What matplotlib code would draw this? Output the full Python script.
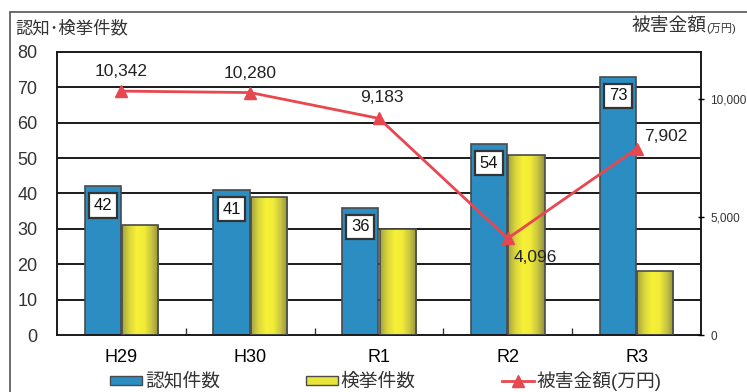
import matplotlib
matplotlib.use("Agg")
import matplotlib.pyplot as plt
import numpy as np
from matplotlib.colors import LinearSegmentedColormap
from matplotlib.lines import Line2D
from matplotlib.patches import Patch, Rectangle

plt.rcParams["font.family"] = ["Liberation Sans", "Noto Sans CJK JP", "DejaVu Sans"]

# data
years = ["H29", "H30", "R1", "R2", "R3"]
ninchi = [42, 41, 36, 54, 73]          # 認知件数
kenkyo = [31, 39, 30, 51, 18]          # 検挙件数
higai = [10342, 10280, 9183, 4096, 7902]  # 被害金額 (万円)
higai_offsets = [(0, 14), (0, 14), (2, 15), (20, -14), (21, 9)]  # label offsets, pt

BLUE = "#2c8dc2"
RED = "#e8474f"
EDGE = "#4a4a4a"
yellow_cmap = LinearSegmentedColormap.from_list(
    "yel", ["#a3a240", "#d9d63c", "#f6f036", "#f2ec38", "#c9c640", "#8e8f42"])

fig = plt.figure(figsize=(7.47, 3.92), dpi=100)
ax = fig.add_axes([57 / 747, 1 - 335 / 392, 644 / 747, 283 / 392])

x = np.arange(len(years))
w = 0.28
off = 0.145

# grid lines behind the bars
for g in range(10, 80, 10):
    ax.axhline(g, color="#1a1a1a", lw=1.4, zorder=1)

ax.bar(x - off, ninchi, w, color=BLUE, edgecolor=EDGE, lw=1.2, zorder=2)
ybars = ax.bar(x + off, kenkyo, w, color="none", edgecolor=EDGE, lw=1.2, zorder=3)

# horizontal gradient fill for the yellow bars
grad = np.linspace(0, 1, 256).reshape(1, -1)
for xi, b in zip(x, ybars):
    im = ax.imshow(grad, extent=[xi + off - w / 2, xi + off + w / 2, 0, b.get_height()],
                   aspect="auto", cmap=yellow_cmap, zorder=2.5)
    im.set_clip_path(b)

# white value boxes inside the top of the blue bars
for xi, v in zip(x, ninchi):
    ax.text(xi - off, v - 3.3, str(v), ha="center", va="top", fontsize=12, color="#111",
            zorder=5, bbox=dict(boxstyle="square,pad=0.28", fc="white", ec="#333", lw=1.6))

ax.set_xlim(-0.5, len(years) - 0.5)
ax.set_ylim(0, 80)
ax.set_yticks(range(0, 81, 10))
ax.set_xticks(x)
ax.set_xticklabels(years, fontsize=13)
ax.set_xticks(x[:-1] + 0.5, minor=True)
ax.tick_params(axis="x", which="major", length=0, pad=10)
ax.tick_params(axis="x", which="minor", direction="in", length=5, width=1, color="#333")
ax.tick_params(axis="y", length=0, pad=14, labelsize=13, labelcolor="#333")
for s in ax.spines.values():
    s.set_linewidth(1.4)
    s.set_color("#1a1a1a")

# damage amount on the right axis
ax2 = ax.twinx()
ax2.plot(x, higai, color=RED, lw=2, marker="^", ms=9, zorder=6)
for xi, v, (dx, dy) in zip(x, higai, higai_offsets):
    ax2.annotate(f"{v:,}", (xi, v), xytext=(dx, dy), textcoords="offset points",
                 ha="center", va="center", fontsize=12.5, color="#222")
ax2.set_ylim(0, 12000)
ax2.set_yticks([0, 5000, 10000])
ax2.set_yticklabels([f"{t:,}" for t in [0, 5000, 10000]])
ax2.tick_params(axis="y", direction="inout", length=5, width=1, pad=4,
                labelsize=8.5, labelcolor="#333")
for s in ax2.spines.values():
    s.set_visible(False)

# axis titles
fig.text(15 / 747, 1 - 28 / 392, "認知･検挙件数", fontsize=12.5, va="center", ha="left", color="#333")
fig.text(632 / 747, 1 - 27 / 392, "被害金額", fontsize=13.5, va="center", ha="left", color="#333")
fig.text(706 / 747, 1 - 29 / 392, "(万円)", fontsize=8, va="center", ha="left", color="#333")

# outer frame of the chart
fig.patches.append(Rectangle((10 / 747, -0.2), 2, 1.2 - 12 / 392, transform=fig.transFigure,
                             fill=False, ec="#555", lw=1.2))

handles = [
    Patch(fc=BLUE, ec=EDGE, lw=1),
    Patch(fc="#e8e43a", ec=EDGE, lw=1),
    Line2D([], [], color=RED, lw=2, marker="^", ms=8),
]
fig.legend(handles, ["認知件数", "検挙件数", "被害金額(万円)"], loc="center left",
           bbox_to_anchor=(97 / 747, 1 - 381 / 392), ncol=3, frameon=False, fontsize=13.5,
           handlelength=1.7, handleheight=0.35, handletextpad=0.15, columnspacing=4.6,
           borderpad=0.2, labelcolor="#333")

fig.savefig("out.png", dpi=100, facecolor="white")
